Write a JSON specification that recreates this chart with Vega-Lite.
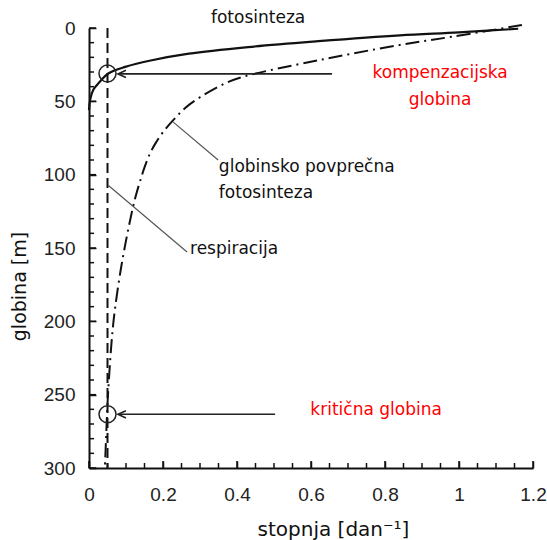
{
  "$schema": "https://vega.github.io/schema/vega-lite/v6.json",
  "width": 444,
  "height": 440,
  "autosize": {"type": "none"},
  "padding": {"left": 89, "top": 28, "right": 14, "bottom": 72},
  "background": "white",
  "config": {"view": {"stroke": null}, "axis": {"grid": false, "labelOverlap": false}},
  "resolve": {"axis": {"x": "independent", "y": "independent"}},
  "datasets": {
    "resp": [{"v": 0.05, "d": 0}, {"v": 0.05, "d": 300}],
    "photo": [
      {"v": 1.16, "d": 0.5}, {"v": 1.0, "d": 3}, {"v": 0.84, "d": 5}, {"v": 0.62, "d": 9},
      {"v": 0.43, "d": 13}, {"v": 0.27, "d": 17.5}, {"v": 0.17, "d": 22}, {"v": 0.098, "d": 26.5},
      {"v": 0.052, "d": 31}, {"v": 0.028, "d": 37}, {"v": 0.012, "d": 42}, {"v": 0.003, "d": 49},
      {"v": 0.0, "d": 56}
    ],
    "avg": [
      {"v": 1.17, "d": -2}, {"v": 0.98, "d": 6}, {"v": 0.83, "d": 12}, {"v": 0.62, "d": 22},
      {"v": 0.42, "d": 33}, {"v": 0.37, "d": 37.5}, {"v": 0.30, "d": 47.2}, {"v": 0.26, "d": 54.5},
      {"v": 0.227, "d": 63}, {"v": 0.20, "d": 71}, {"v": 0.18, "d": 78.5}, {"v": 0.165, "d": 85.5},
      {"v": 0.15, "d": 95}, {"v": 0.138, "d": 104.5}, {"v": 0.128, "d": 113}, {"v": 0.118, "d": 123},
      {"v": 0.10, "d": 145}, {"v": 0.085, "d": 166}, {"v": 0.07, "d": 192}, {"v": 0.062, "d": 211},
      {"v": 0.052, "d": 247}, {"v": 0.049, "d": 262}, {"v": 0.043, "d": 300}
    ],
    "arrows": [
      {"v": 0.657, "d": 31.3, "v2": 0.08, "d2": 31.3},
      {"v": 0.503, "d": 263.4, "v2": 0.08, "d2": 263.4}
    ],
    "heads": [{"v": 0.089, "d": 31.3}, {"v": 0.089, "d": 263.4}],
    "circles": [{"v": 0.05, "d": 31}, {"v": 0.05, "d": 263.4}],
    "leaders": [
      {"v": 0.227, "d": 64, "v2": 0.349, "d2": 90},
      {"v": 0.051, "d": 107, "v2": 0.265, "d2": 152.7}
    ],
    "xminor": [
      {"v": 0.05}, {"v": 0.1}, {"v": 0.15}, {"v": 0.25}, {"v": 0.3}, {"v": 0.35}, {"v": 0.45}, {"v": 0.5}, {"v": 0.55},
      {"v": 0.65}, {"v": 0.7}, {"v": 0.75}, {"v": 0.85}, {"v": 0.9}, {"v": 0.95}, {"v": 1.05}, {"v": 1.1}, {"v": 1.15}
    ],
    "xmajor": [{"v": 0}, {"v": 0.2}, {"v": 0.4}, {"v": 0.6}, {"v": 0.8}, {"v": 1}, {"v": 1.2}],
    "yminor": [
      {"d": 10}, {"d": 20}, {"d": 30}, {"d": 40}, {"d": 60}, {"d": 70}, {"d": 80}, {"d": 90},
      {"d": 110}, {"d": 120}, {"d": 130}, {"d": 140}, {"d": 160}, {"d": 170}, {"d": 180}, {"d": 190},
      {"d": 210}, {"d": 220}, {"d": 230}, {"d": 240}, {"d": 260}, {"d": 270}, {"d": 280}, {"d": 290}
    ],
    "ymajor": [{"d": 0}, {"d": 50}, {"d": 100}, {"d": 150}, {"d": 200}, {"d": 250}, {"d": 300}],
    "textc": [
      {"t": "fotosinteza", "v": 0.457, "d": -6.8, "role": "curve"},
      {"t": "kompenzacijska", "v": 0.949, "d": 30.7, "role": "depth"},
      {"t": "globina", "v": 0.949, "d": 49, "role": "depth"},
      {"t": "kritična globina", "v": 0.776, "d": 260.4, "role": "depth"}
    ],
    "textl": [
      {"t": "globinsko povprečna", "v": 0.351, "d": 95},
      {"t": "fotosinteza", "v": 0.351, "d": 112.5},
      {"t": "respiracija", "v": 0.273, "d": 150.6}
    ]
  },
  "layer": [
    {
      "data": {"name": "resp"},
      "mark": {"type": "line", "strokeDash": [10, 5], "strokeWidth": 2, "color": "#111"},
      "encoding": {
        "x": {
          "field": "v", "type": "quantitative",
          "scale": {"domain": [0, 1.2], "nice": false, "zero": false},
          "axis": {
            "orient": "bottom", "ticks": false, "labels": false,
            "domainColor": "#111", "domainWidth": 2,
            "title": "stopnja [dan⁻¹]", "titleFont": "DejaVu Sans", "titleFontSize": 20,
            "titleFontWeight": "normal", "titleColor": "#111",
            "titleX": 244, "titleY": 67, "titleBaseline": "alphabetic", "titleAlign": "center"
          }
        },
        "y": {
          "field": "d", "type": "quantitative",
          "scale": {"domain": [0, 300], "reverse": true, "nice": false, "zero": false},
          "axis": {
            "orient": "left", "ticks": false, "labels": false,
            "domainColor": "#111", "domainWidth": 2,
            "title": "globina [m]", "titleFont": "DejaVu Sans", "titleFontSize": 19,
            "titleFontWeight": "normal", "titleColor": "#111",
            "titleX": -70, "titleY": 258, "titleBaseline": "middle", "titleAlign": "center", "titleAngle": -90
          }
        },
        "order": {"field": "d", "type": "quantitative"}
      }
    },
    {
      "data": {"name": "photo"},
      "mark": {"type": "line", "strokeWidth": 2.2, "color": "#111", "interpolate": "catmull-rom"},
      "encoding": {
        "x": {
          "field": "v", "type": "quantitative",
          "axis": {
            "orient": "bottom", "offset": -7,
            "values": [0, 0.2, 0.4, 0.6, 0.8, 1, 1.2],
            "labelExpr": "format(datum.value, '~g')",
            "ticks": true, "tickSize": 7, "tickWidth": 1.5, "tickColor": "#111",
            "domain": false,
            "labelFont": "Liberation Sans", "labelFontSize": 19, "labelColor": "#222",
            "labelPadding": 17, "labelFlush": false,
            "title": null
          }
        },
        "y": {
          "field": "d", "type": "quantitative",
          "axis": {
            "orient": "left", "offset": -7,
            "values": [0, 50, 100, 150, 200, 250, 300],
            "format": "d",
            "ticks": true, "tickSize": 7, "tickWidth": 1.5, "tickColor": "#111",
            "domain": false,
            "labelFont": "Liberation Sans", "labelFontSize": 19, "labelColor": "#222",
            "labelPadding": 14, "labelFlush": false,
            "title": null
          }
        },
        "order": {"field": "d", "type": "quantitative"}
      }
    },
    {
      "data": {"name": "avg"},
      "mark": {"type": "line", "strokeWidth": 2, "color": "#111", "strokeDash": [14, 5, 2, 5], "interpolate": "catmull-rom"},
      "encoding": {
        "x": {"field": "v", "type": "quantitative", "axis": null},
        "y": {"field": "d", "type": "quantitative", "axis": null},
        "order": {"field": "d", "type": "quantitative"}
      }
    },
    {
      "data": {"name": "xminor"},
      "mark": {"type": "tick", "orient": "vertical", "size": 5, "thickness": 1.5, "yOffset": -2.5, "color": "#111", "opacity": 1},
      "encoding": {
        "x": {"field": "v", "type": "quantitative", "axis": null},
        "y": {"datum": 300, "type": "quantitative", "axis": null}
      }
    },
    {
      "data": {"name": "xmajor"},
      "mark": {"type": "tick", "orient": "vertical", "size": 7, "thickness": 1.5, "yOffset": -3.5, "color": "#111", "opacity": 1},
      "encoding": {
        "x": {"field": "v", "type": "quantitative", "axis": null},
        "y": {"datum": 300, "type": "quantitative", "axis": null}
      }
    },
    {
      "data": {"name": "yminor"},
      "mark": {"type": "tick", "orient": "horizontal", "size": 5, "thickness": 1.5, "xOffset": 2.5, "color": "#111", "opacity": 1},
      "encoding": {
        "y": {"field": "d", "type": "quantitative", "axis": null},
        "x": {"datum": 0, "type": "quantitative", "axis": null}
      }
    },
    {
      "data": {"name": "ymajor"},
      "mark": {"type": "tick", "orient": "horizontal", "size": 7, "thickness": 1.5, "xOffset": 3.5, "color": "#111", "opacity": 1},
      "encoding": {
        "y": {"field": "d", "type": "quantitative", "axis": null},
        "x": {"datum": 0, "type": "quantitative", "axis": null}
      }
    },
    {
      "data": {"name": "arrows"},
      "mark": {"type": "rule", "strokeWidth": 1.6, "color": "#222"},
      "encoding": {
        "x": {"field": "v", "type": "quantitative", "axis": null},
        "y": {"field": "d", "type": "quantitative", "axis": null},
        "x2": {"field": "v2"},
        "y2": {"field": "d2"}
      }
    },
    {
      "data": {"name": "heads"},
      "mark": {"type": "point", "shape": "M1,-0.9L-1,0L1,0.9", "size": 64, "filled": false, "strokeWidth": 1.6, "color": "#222", "opacity": 1},
      "encoding": {
        "x": {"field": "v", "type": "quantitative", "axis": null},
        "y": {"field": "d", "type": "quantitative", "axis": null}
      }
    },
    {
      "data": {"name": "circles"},
      "mark": {"type": "point", "shape": "circle", "size": 289, "filled": false, "strokeWidth": 1.5, "color": "#222", "opacity": 1},
      "encoding": {
        "x": {"field": "v", "type": "quantitative", "axis": null},
        "y": {"field": "d", "type": "quantitative", "axis": null}
      }
    },
    {
      "data": {"name": "leaders"},
      "mark": {"type": "rule", "strokeWidth": 1.2, "color": "#555"},
      "encoding": {
        "x": {"field": "v", "type": "quantitative", "axis": null},
        "y": {"field": "d", "type": "quantitative", "axis": null},
        "x2": {"field": "v2"},
        "y2": {"field": "d2"}
      }
    },
    {
      "data": {"name": "textc"},
      "mark": {"type": "text", "font": "DejaVu Sans", "fontSize": 17, "align": "center", "baseline": "middle"},
      "encoding": {
        "x": {"field": "v", "type": "quantitative", "axis": null},
        "y": {"field": "d", "type": "quantitative", "axis": null},
        "text": {"field": "t"},
        "color": {"field": "role", "type": "nominal", "scale": {"domain": ["curve", "depth"], "range": ["#111111", "#ff0000"]}, "legend": null}
      }
    },
    {
      "data": {"name": "textl"},
      "mark": {"type": "text", "font": "DejaVu Sans", "fontSize": 17, "align": "left", "baseline": "middle", "color": "#111"},
      "encoding": {
        "x": {"field": "v", "type": "quantitative", "axis": null},
        "y": {"field": "d", "type": "quantitative", "axis": null},
        "text": {"field": "t"}
      }
    }
  ]
}
